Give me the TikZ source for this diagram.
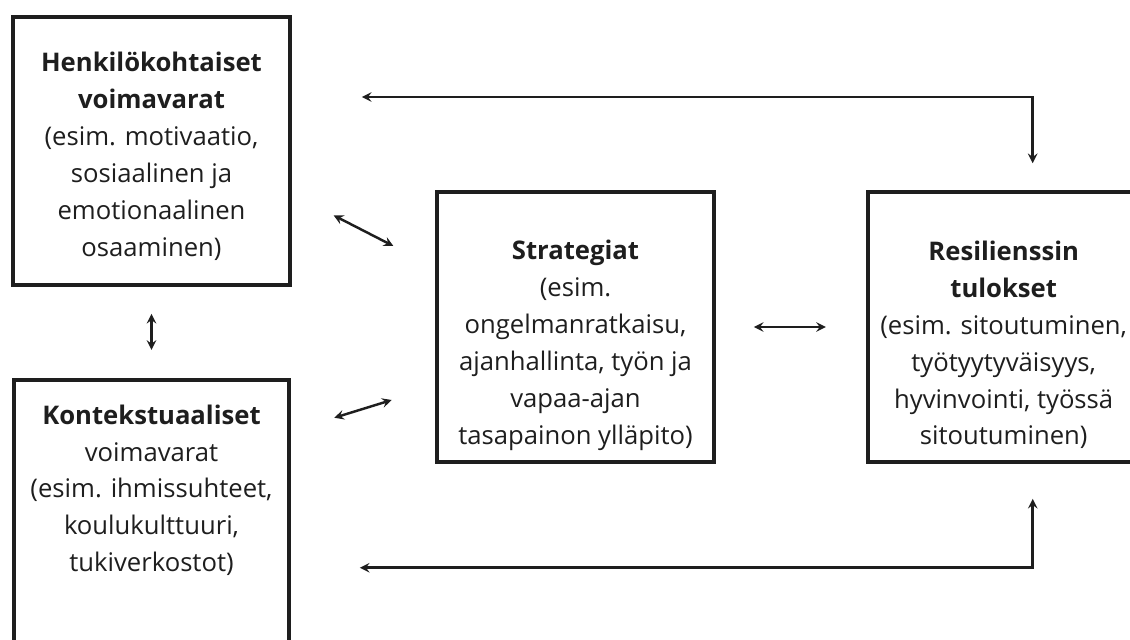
\documentclass[tikz,border=0pt]{standalone}
\usepackage{fontspec}
\setmainfont{Open Sans}
\usetikzlibrary{arrows, positioning}
\definecolor{inkgray}{RGB}{30,30,30}

\begin{document}
\begin{tikzpicture}[
    box/.style={rectangle, draw=inkgray, line width=2.1pt, minimum width=5.54cm,
                minimum height=5.4cm, inner sep=0pt},
    boxtext/.style={align=center, text=inkgray, font=\fontsize{14.6}{21}\selectfont},
    link/.style={<->, >=stealth, line width=1.4pt, inkgray}]

    \useasboundingbox (0,0) rectangle (22.6,-12.78);

    \node[box, minimum height=5.36cm] (persbox) at (3.03,-3.02) {};
    \node[box, minimum width=5.5cm, minimum height=5.68cm, below=1.82cm of persbox] (ctxbox) {};
    \node[box] (stratbox) at (11.51,-6.54) {};
    \node[box, minimum width=6.6cm, right=3cm of stratbox] (resbox) {};

    \node[boxtext] (pers) at ([yshift=-0.11cm]persbox.center)
        {\textbf{Henkilökohtaiset}\\\textbf{voimavarat}\\(esim. motivaatio,\\sosiaalinen ja\\emotionaalinen\\osaaminen)};
    \node[boxtext] (ctx) at ([yshift=0.63cm]ctxbox.center)
        {\textbf{Kontekstuaaliset}\\voimavarat\\(esim. ihmissuhteet,\\koulukulttuuri,\\tukiverkostot)};
    \node[boxtext] (strat) at ([yshift=-0.37cm]stratbox.center)
        {\textbf{Strategiat}\\(esim.\\ongelmanratkaisu,\\ajanhallinta, työn ja\\vapaa-ajan\\tasapainon ylläpito)};
    \node[boxtext] (res) at ([shift={(-0.58cm,-0.36cm)}]resbox.center)
        {\textbf{Resilienssin}\\\textbf{tulokset}\\(esim. sitoutuminen,\\työtyytyväisyys,\\hyvinvointi, työssä\\sitoutuminen)};

    \draw[link, shorten <=0.54cm, shorten >=0.56cm] (persbox) -- (ctxbox);
    \draw[link, shorten <=0.94cm, shorten >=0.94cm] (persbox.-17) -- (stratbox.157);
    \draw[link, shorten <=0.91cm, shorten >=0.91cm] (ctxbox.33) -- (stratbox.-157);
    \draw[link, shorten <=0.76cm, shorten >=0.8cm] (stratbox) -- (resbox);
    \draw[link, shorten <=1.4cm, shorten >=0.54cm] ([yshift=1.08cm]persbox.east) -| (resbox.north);
    \draw[link, shorten <=1.38cm, shorten >=0.7cm] ([yshift=-0.92cm]ctxbox.east) -| (resbox.south);
\end{tikzpicture}
\end{document}
